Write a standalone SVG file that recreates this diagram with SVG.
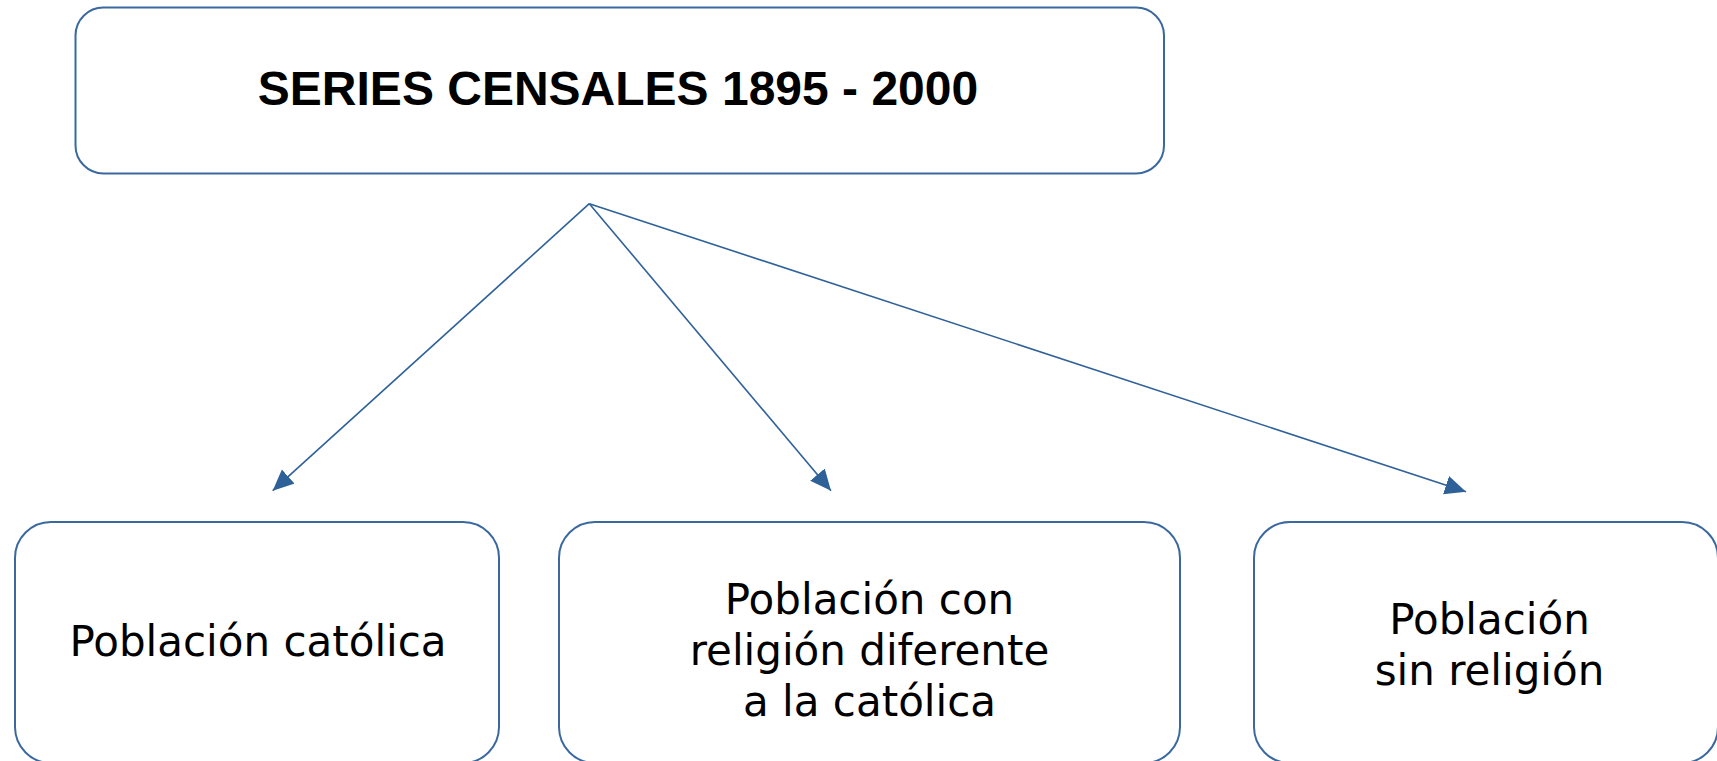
<svg xmlns="http://www.w3.org/2000/svg" width="1717" height="761" viewBox="0 0 1717 761">
<style>
.box{fill:#ffffff;stroke:#3a689f;stroke-width:2}
.title{font-family:"Liberation Sans",Arial,sans-serif;font-weight:bold;font-size:48px;fill:#000;text-anchor:middle}
.lbl{font-family:"DejaVu Sans",Verdana,sans-serif;font-size:42px;fill:#000;text-anchor:middle}
.conn{stroke:#2f6199;stroke-width:1.6;fill:none}
</style>
<defs>
<marker id="arr" markerUnits="userSpaceOnUse" markerWidth="22" markerHeight="20" refX="21" refY="9.5" orient="auto">
<path d="M0,0 L21,9.5 L0,19 Z" fill="#2f6199"/>
</marker>
</defs>
<rect width="1717" height="761" fill="#ffffff"/>
<g id="connectors">
<line class="conn" x1="589.3" y1="203.7" x2="272.7" y2="490.7" marker-end="url(#arr)"/>
<line class="conn" x1="589.3" y1="203.7" x2="831" y2="490.7" marker-end="url(#arr)"/>
<line class="conn" x1="589.3" y1="203.7" x2="1466" y2="491.7" marker-end="url(#arr)"/>
</g>
<g id="node-title">
<rect class="box" x="75.5" y="7.5" width="1088.5" height="166" rx="28" ry="28"/>
<text class="title" x="618" y="105">SERIES CENSALES 1895 - 2000</text>
</g>
<g id="node-catolica">
<rect class="box" x="15" y="522" width="484" height="241" rx="36" ry="36"/>
<text class="lbl" x="258" y="656">Población católica</text>
</g>
<g id="node-otra">
<rect class="box" x="559" y="522" width="621" height="241" rx="36" ry="36"/>
<text class="lbl" x="869.5" y="614">Población con</text>
<text class="lbl" x="869.5" y="665">religión diferente</text>
<text class="lbl" x="869.5" y="716">a la católica</text>
</g>
<g id="node-sin">
<rect class="box" x="1254" y="522" width="464" height="241" rx="36" ry="36"/>
<text class="lbl" x="1489.5" y="634">Población</text>
<text class="lbl" x="1489.5" y="685">sin religión</text>
</g>
</svg>
